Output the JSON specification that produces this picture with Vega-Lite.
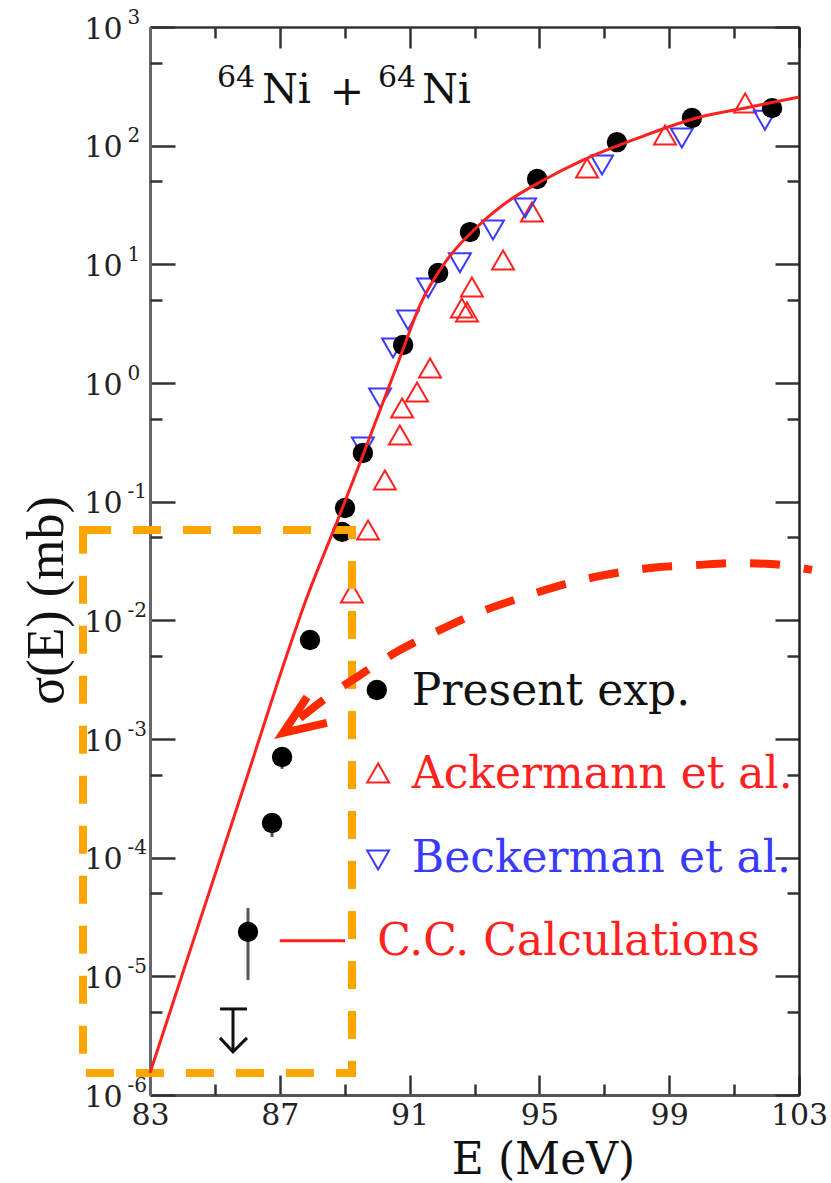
{
 "$schema": "https://vega.github.io/schema/vega-lite/v6.json",
 "width": 649, "height": 1068,
 "autosize": {"type": "none"},
 "padding": {"left": 150, "top": 27, "right": 32, "bottom": 88},
 "background": "white",
 "config": {"view": {"stroke": null}},
 "datasets": {
  "present": [
   {"E": 86.02, "s": 2.37e-5}, {"E": 86.76, "s": 1.96e-4}, {"E": 87.07, "s": 7.05e-4},
   {"E": 87.93, "s": 6.82e-3}, {"E": 88.92, "s": 0.0556}, {"E": 89.01, "s": 0.0885},
   {"E": 89.56, "s": 0.257}, {"E": 90.80, "s": 2.09}, {"E": 91.88, "s": 8.45},
   {"E": 92.86, "s": 18.7}, {"E": 94.93, "s": 52.4}, {"E": 97.39, "s": 107},
   {"E": 99.70, "s": 171}, {"E": 102.17, "s": 207}
  ],
  "err": [
   {"E": 86.02, "s": 9.3e-6, "s2": 3.77e-5},
   {"E": 86.76, "s": 1.49e-4, "s2": 2.2e-4},
   {"E": 87.07, "s": 5.6e-4, "s2": 8.5e-4}
  ],
  "ack": [
   {"E": 101.34, "s": 229}, {"E": 98.87, "s": 123}, {"E": 96.47, "s": 64.9},
   {"E": 94.77, "s": 27.6}, {"E": 93.88, "s": 10.9}, {"E": 92.92, "s": 6.44},
   {"E": 92.61, "s": 4.29}, {"E": 92.77, "s": 3.96}, {"E": 91.63, "s": 1.34},
   {"E": 91.23, "s": 0.839}, {"E": 90.77, "s": 0.615}, {"E": 90.70, "s": 0.365},
   {"E": 90.24, "s": 0.152}, {"E": 89.72, "s": 0.0577}, {"E": 89.22, "s": 0.017}
  ],
  "beck": [
   {"E": 101.95, "s": 164}, {"E": 99.39, "s": 116}, {"E": 96.93, "s": 68.7},
   {"E": 94.56, "s": 29.9}, {"E": 93.57, "s": 19.5}, {"E": 92.55, "s": 10.3},
   {"E": 91.57, "s": 6.33}, {"E": 90.95, "s": 3.40}, {"E": 90.49, "s": 1.97},
   {"E": 90.09, "s": 0.748}, {"E": 89.56, "s": 0.289}
  ],
  "cc": [
   {"E": 83.0, "s": 1.535e-6}, {"E": 84.54, "s": 2.96e-5}, {"E": 85.93, "s": 4.26e-4},
   {"E": 87.31, "s": 6.08e-3}, {"E": 87.84, "s": 0.01574}, {"E": 88.30, "s": 0.0329},
   {"E": 88.70, "s": 0.0612}, {"E": 89.47, "s": 0.212}, {"E": 90.09, "s": 0.593},
   {"E": 90.70, "s": 1.626}, {"E": 91.32, "s": 4.54}, {"E": 92.15, "s": 10.89},
   {"E": 93.08, "s": 20.65}, {"E": 94.09, "s": 34.8}, {"E": 95.02, "s": 49.4},
   {"E": 96.34, "s": 75.7}, {"E": 97.88, "s": 111.7}, {"E": 99.95, "s": 174.6},
   {"E": 101.49, "s": 211.8}, {"E": 103.0, "s": 257}
  ],
  "arrow": [
   {"E": 87.62, "s": 0.0015}, {"E": 88.55, "s": 0.00235}, {"E": 89.47, "s": 0.00346},
   {"E": 90.70, "s": 0.00562}, {"E": 91.94, "s": 0.0083}, {"E": 93.17, "s": 0.01175},
   {"E": 94.40, "s": 0.0154}, {"E": 95.79, "s": 0.0202}, {"E": 97.02, "s": 0.0241},
   {"E": 98.41, "s": 0.0276}, {"E": 99.80, "s": 0.0292}, {"E": 101.09, "s": 0.0304},
   {"E": 102.11, "s": 0.02985}, {"E": 103.40, "s": 0.02655}
  ],
  "head": [
   {"E": 87.84, "s": 0.00226, "i": 0}, {"E": 87.10, "s": 0.001125, "i": 1}, {"E": 88.45, "s": 0.001365, "i": 2}
  ],
  "ulim": [{"E": 85.558, "Elo": 85.157, "Ehi": 85.989, "s": 5.31e-6, "s2": 2.31e-6}],
  "ulimhead": [{"E": 85.157, "s": 3.03e-6}, {"E": 85.558, "s": 2.31e-6}, {"E": 85.989, "s": 3.03e-6}],
  "one": [{"k": 1}]
 },
 "layer": [
  {
   "data": {"name": "present"},
   "mark": {"type": "point", "opacity": 0},
   "encoding": {
    "x": {"field": "E", "type": "quantitative", "scale": {"domain": [83, 103], "nice": false, "zero": false},
     "axis": {"orient": "bottom", "values": [83, 87, 91, 95, 99, 103], "grid": false,
      "tickSize": -20, "tickWidth": 2.5, "tickColor": "#333", "domainColor": "#555", "domainWidth": 3,
      "labelFont": "DejaVu Serif", "labelFontSize": 30, "labelColor": "#222", "labelPadding": 25,
      "labelFlush": false, "labelOverlap": false, "labelBaseline": "top",
      "title": "E (MeV)", "titleFont": "DejaVu Serif", "titleFontSize": 44, "titleFontWeight": "normal",
      "titleColor": "#111", "titleX": 393, "titleY": 78, "titleBaseline": "alphabetic", "titleAlign": "center"}},
    "y": {"field": "s", "type": "quantitative", "scale": {"type": "log", "domain": [0.000001, 1000], "nice": false},
     "axis": {"orient": "left", "values": [0.000001, 0.00001, 0.0001, 0.001, 0.01, 0.1, 1, 10, 100, 1000], "grid": false,
      "labelExpr": "'10'",
      "tickSize": -25, "tickWidth": 2.5, "tickColor": "#333", "domainColor": "#666", "domainWidth": 3,
      "labelFont": "DejaVu Serif", "labelFontSize": 30, "labelColor": "#222", "labelPadding": 53,
      "labelFlush": false, "labelOverlap": false, "labelBaseline": "middle", "labelAlign": "right", "labelOffset": 2,
      "title": "σ(E) (mb)", "titleFont": "Liberation Serif", "titleFontSize": 52, "titleFontWeight": "normal",
      "titleColor": "#111", "titleX": -88, "titleY": 573, "titleAngle": 270, "titleBaseline": "alphabetic", "titleAlign": "center"}}
   }
  },
  {
   "data": {"name": "present"},
   "mark": {"type": "point", "opacity": 0},
   "encoding": {
    "x": {"field": "E", "type": "quantitative", "scale": {"domain": [83, 103], "nice": false, "zero": false},
     "axis": {"orient": "top", "values": [83, 87, 91, 95, 99, 103], "grid": false, "labels": false, "title": null,
      "tickSize": -21, "tickWidth": 2.5, "tickColor": "#333", "domainColor": "#333", "domainWidth": 2.5}},
    "y": {"field": "s", "type": "quantitative", "scale": {"type": "log", "domain": [0.000001, 1000], "nice": false},
     "axis": {"orient": "right", "values": [0.000001, 0.00001, 0.0001, 0.001, 0.01, 0.1, 1, 10, 100, 1000], "grid": false, "labels": false, "title": null,
      "tickSize": -24, "tickWidth": 2.5, "tickColor": "#333", "domainColor": "#222", "domainWidth": 2.5}}
   }
  },
  {
   "data": {"name": "present"},
   "mark": {"type": "point", "opacity": 0},
   "encoding": {
    "x": {"field": "E", "type": "quantitative", "scale": {"domain": [83, 103], "nice": false, "zero": false},
     "axis": {"orient": "bottom", "values": [85, 89, 93, 97, 101], "grid": false, "labels": false, "title": null, "domain": false,
      "tickSize": -11, "tickWidth": 2.5, "tickColor": "#333"}},
    "y": {"field": "s", "type": "quantitative", "scale": {"type": "log", "domain": [0.000001, 1000], "nice": false},
     "axis": {"orient": "left", "values": [0.000005, 0.00005, 0.0005, 0.005, 0.05, 0.5, 5, 50, 500], "grid": false, "labels": false, "title": null, "domain": false,
      "tickSize": -12, "tickWidth": 2.5, "tickColor": "#333"}}
   }
  },
  {
   "data": {"name": "present"},
   "mark": {"type": "point", "opacity": 0},
   "encoding": {
    "x": {"field": "E", "type": "quantitative", "scale": {"domain": [83, 103], "nice": false, "zero": false},
     "axis": {"orient": "top", "values": [85, 89, 93, 97, 101], "grid": false, "labels": false, "title": null, "domain": false,
      "tickSize": -11, "tickWidth": 2.5, "tickColor": "#333"}},
    "y": {"field": "s", "type": "quantitative", "scale": {"type": "log", "domain": [0.000001, 1000], "nice": false},
     "axis": {"orient": "right", "values": [0.000005, 0.00005, 0.0005, 0.005, 0.05, 0.5, 5, 50, 500], "grid": false, "labels": false, "title": null, "domain": false,
      "tickSize": -12, "tickWidth": 2.5, "tickColor": "#333"}}
   }
  },
  {
   "data": {"name": "present"},
   "mark": {"type": "point", "opacity": 0},
   "encoding": {
    "x": {"field": "E", "type": "quantitative", "axis": null},
    "y": {"field": "s", "type": "quantitative", "scale": {"type": "log", "domain": [0.000001, 1000], "nice": false},
     "axis": {"orient": "left", "values": [0.000001, 0.00001, 0.0001, 0.001, 0.01, 0.1, 1, 10, 100, 1000], "grid": false,
      "labelExpr": "['-6','-5','-4','-3','-2','-1','0','1','2','3'][round(log(datum.value)/LN10)+6]",
      "ticks": false, "domain": false, "title": null,
      "labelFont": "DejaVu Serif", "labelFontSize": 20, "labelColor": "#222", "labelPadding": 23,
      "labelFlush": false, "labelOverlap": false, "labelBaseline": "middle", "labelAlign": "left", "labelOffset": -10}}
   }
  },
  {"data": {"name": "err"}, "mark": {"type": "rule", "color": "#555", "strokeWidth": 3},
   "encoding": {"x": {"field": "E", "type": "quantitative", "axis": null}, "y": {"field": "s", "type": "quantitative", "scale": {"type": "log"}, "axis": null}, "y2": {"field": "s2"}}},
  {"data": {"name": "ack"}, "mark": {"type": "point", "shape": "triangle-up", "filled": false, "color": "#ff2020", "strokeWidth": 2, "size": 480, "opacity": 1},
   "encoding": {"x": {"field": "E", "type": "quantitative", "axis": null}, "y": {"field": "s", "type": "quantitative", "scale": {"type": "log"}, "axis": null}}},
  {"data": {"name": "beck"}, "mark": {"type": "point", "shape": "triangle-down", "filled": false, "color": "#3a3aff", "strokeWidth": 2, "size": 480, "opacity": 1},
   "encoding": {"x": {"field": "E", "type": "quantitative", "axis": null}, "y": {"field": "s", "type": "quantitative", "scale": {"type": "log"}, "axis": null}}},
  {"data": {"name": "present"}, "mark": {"type": "circle", "color": "#000000", "size": 415, "opacity": 1},
   "encoding": {"x": {"field": "E", "type": "quantitative", "axis": null}, "y": {"field": "s", "type": "quantitative", "scale": {"type": "log"}, "axis": null}}},
  {"data": {"name": "one"}, "mark": {"type": "rect", "filled": false, "color": "#ffa500", "strokeWidth": 8, "strokeDash": [28, 22]},
   "encoding": {
    "x": {"datum": 80.935, "type": "quantitative", "axis": null},
    "x2": {"datum": 89.225},
    "y": {"datum": 0.0577, "type": "quantitative", "scale": {"type": "log"}, "axis": null},
    "y2": {"datum": 1.535e-6}}},
  {"data": {"name": "cc"}, "mark": {"type": "line", "color": "#ff2020", "strokeWidth": 3, "interpolate": "monotone"},
   "encoding": {"x": {"field": "E", "type": "quantitative", "axis": null}, "y": {"field": "s", "type": "quantitative", "scale": {"type": "log"}, "axis": null}}},
  {"data": {"name": "ulim"}, "mark": {"type": "rule", "color": "#111", "strokeWidth": 3},
   "encoding": {"x": {"field": "Elo", "type": "quantitative", "axis": null}, "x2": {"field": "Ehi"}, "y": {"field": "s", "type": "quantitative", "scale": {"type": "log"}, "axis": null}}},
  {"data": {"name": "ulim"}, "mark": {"type": "rule", "color": "#111", "strokeWidth": 3},
   "encoding": {"x": {"field": "E", "type": "quantitative", "axis": null}, "y": {"field": "s", "type": "quantitative", "scale": {"type": "log"}, "axis": null}, "y2": {"field": "s2"}}},
  {"data": {"name": "ulimhead"}, "mark": {"type": "line", "color": "#111", "strokeWidth": 3},
   "encoding": {"x": {"field": "E", "type": "quantitative", "axis": null}, "y": {"field": "s", "type": "quantitative", "scale": {"type": "log"}, "axis": null}}},
  {"data": {"name": "arrow"}, "mark": {"type": "line", "color": "#ff2a00", "strokeWidth": 8, "strokeDash": [30, 24], "interpolate": "monotone"},
   "encoding": {"x": {"field": "E", "type": "quantitative", "axis": null}, "y": {"field": "s", "type": "quantitative", "scale": {"type": "log"}, "axis": null}}},
  {"data": {"name": "head"}, "mark": {"type": "line", "color": "#ff2a00", "strokeWidth": 8, "strokeJoin": "miter"},
   "encoding": {"x": {"field": "E", "type": "quantitative", "axis": null}, "y": {"field": "s", "type": "quantitative", "scale": {"type": "log"}, "axis": null}, "order": {"field": "i", "type": "quantitative"}}},
  {"data": {"name": "one"}, "mark": {"type": "circle", "color": "#000000", "size": 415, "opacity": 1},
   "encoding": {"x": {"datum": 89.99, "type": "quantitative", "axis": null}, "y": {"datum": 0.00259, "type": "quantitative", "scale": {"type": "log"}, "axis": null}}},
  {"data": {"name": "one"}, "mark": {"type": "point", "shape": "triangle-up", "filled": false, "color": "#ff2020", "strokeWidth": 2, "size": 480, "opacity": 1},
   "encoding": {"x": {"datum": 90.03, "type": "quantitative", "axis": null}, "y": {"datum": 0.000518, "type": "quantitative", "scale": {"type": "log"}, "axis": null}}},
  {"data": {"name": "one"}, "mark": {"type": "point", "shape": "triangle-down", "filled": false, "color": "#3a3aff", "strokeWidth": 2, "size": 480, "opacity": 1},
   "encoding": {"x": {"datum": 90.03, "type": "quantitative", "axis": null}, "y": {"datum": 0.0000957, "type": "quantitative", "scale": {"type": "log"}, "axis": null}}},
  {"data": {"name": "one"}, "mark": {"type": "rule", "color": "#ff2020", "strokeWidth": 3},
   "encoding": {"x": {"datum": 87.0, "type": "quantitative", "axis": null}, "x2": {"datum": 89.01}, "y": {"datum": 0.0000199, "type": "quantitative", "scale": {"type": "log"}, "axis": null}}},
  {"data": {"name": "one"}, "mark": {"type": "text", "text": "Present exp.", "font": "DejaVu Serif", "fontSize": 44, "color": "#111", "align": "left", "baseline": "alphabetic"},
   "encoding": {"x": {"datum": 91.07, "type": "quantitative", "axis": null}, "y": {"datum": 0.00194, "type": "quantitative", "scale": {"type": "log"}, "axis": null}}},
  {"data": {"name": "one"}, "mark": {"type": "text", "text": "Ackermann et al.", "font": "DejaVu Serif", "fontSize": 44, "color": "#ff2020", "align": "left", "baseline": "alphabetic"},
   "encoding": {"x": {"datum": 91.07, "type": "quantitative", "axis": null}, "y": {"datum": 0.000386, "type": "quantitative", "scale": {"type": "log"}, "axis": null}}},
  {"data": {"name": "one"}, "mark": {"type": "text", "text": "Beckerman et al.", "font": "DejaVu Serif", "fontSize": 44, "color": "#3a3aff", "align": "left", "baseline": "alphabetic"},
   "encoding": {"x": {"datum": 91.07, "type": "quantitative", "axis": null}, "y": {"datum": 0.0000757, "type": "quantitative", "scale": {"type": "log"}, "axis": null}}},
  {"data": {"name": "one"}, "mark": {"type": "text", "text": "C.C. Calculations", "font": "DejaVu Serif", "fontSize": 44, "color": "#ff2020", "align": "left", "baseline": "alphabetic"},
   "encoding": {"x": {"datum": 90.0, "type": "quantitative", "axis": null}, "y": {"datum": 0.0000151, "type": "quantitative", "scale": {"type": "log"}, "axis": null}}},
  {"data": {"name": "one"}, "mark": {"type": "text", "text": "64", "font": "DejaVu Serif", "fontSize": 30, "color": "#111", "align": "left", "baseline": "alphabetic"},
   "encoding": {"x": {"datum": 85.065, "type": "quantitative", "axis": null}, "y": {"datum": 312, "type": "quantitative", "scale": {"type": "log"}, "axis": null}}},
  {"data": {"name": "one"}, "mark": {"type": "text", "text": "Ni", "font": "DejaVu Serif", "fontSize": 41, "color": "#111", "align": "left", "baseline": "alphabetic"},
   "encoding": {"x": {"datum": 86.45, "type": "quantitative", "axis": null}, "y": {"datum": 229, "type": "quantitative", "scale": {"type": "log"}, "axis": null}}},
  {"data": {"name": "one"}, "mark": {"type": "text", "text": "+", "font": "DejaVu Serif", "fontSize": 41, "color": "#111", "align": "center", "baseline": "alphabetic"},
   "encoding": {"x": {"datum": 89.07, "type": "quantitative", "axis": null}, "y": {"datum": 220, "type": "quantitative", "scale": {"type": "log"}, "axis": null}}},
  {"data": {"name": "one"}, "mark": {"type": "text", "text": "64", "font": "DejaVu Serif", "fontSize": 30, "color": "#111", "align": "left", "baseline": "alphabetic"},
   "encoding": {"x": {"datum": 90.026, "type": "quantitative", "axis": null}, "y": {"datum": 312, "type": "quantitative", "scale": {"type": "log"}, "axis": null}}},
  {"data": {"name": "one"}, "mark": {"type": "text", "text": "Ni", "font": "DejaVu Serif", "fontSize": 41, "color": "#111", "align": "left", "baseline": "alphabetic"},
   "encoding": {"x": {"datum": 91.38, "type": "quantitative", "axis": null}, "y": {"datum": 229, "type": "quantitative", "scale": {"type": "log"}, "axis": null}}}
 ],
 "resolve": {"axis": {"x": "independent", "y": "independent"}}
}
